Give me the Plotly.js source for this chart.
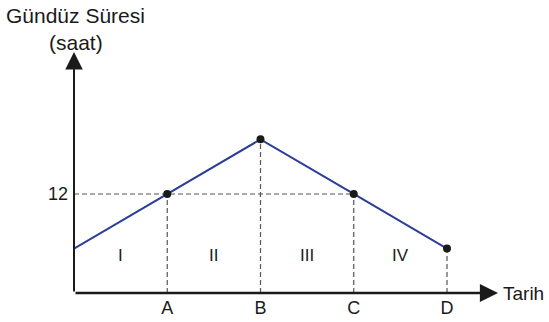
<!DOCTYPE html>
<html>
<head>
<meta charset="utf-8">
<script src="https://cdn.plot.ly/plotly-3.0.1.min.js"></script>
<style>
  html, body { margin: 0; padding: 0; background: #fff; }
  #chart { width: 549px; height: 322px; }
</style>
</head>
<body>
<div id="chart"></div>
<script>
// day length curve: start of period, then the dates A..D
const dateLabels = ["", "A", "B", "C", "D"];
const datePos    = [0, 1, 2, 3, 4];
const dayHours   = [9, 12, 15, 12, 9];
const regionLabels = ["I", "II", "III", "IV"];
const refHour = 12;

const Y_MIN = 6.56, Y_MAX = 19.8;
const X_MAX = 4.547;
const FONT = "Liberation Sans, Arial, sans-serif";
const INK = "#1a1a1a";

const traces = [];

// vertical guides from each marked date down to the time axis
for (let i = 1; i < datePos.length; i++) {
  traces.push({
    type: "scatter", mode: "lines",
    x: [datePos[i], datePos[i]], y: [Y_MIN, dayHours[i]],
    line: { color: "#555", width: 1.2, dash: "5px,3px" },
    hoverinfo: "skip", showlegend: false,
  });
}

// horizontal guide at 12 hours, up to the last date reaching it
const lastAt12 = datePos.filter((p, i) => dayHours[i] === refHour).pop();
traces.push({
  type: "scatter", mode: "lines",
  x: [0, lastAt12], y: [refHour, refHour],
  line: { color: "#555", width: 1.2, dash: "5px,3px" },
  hoverinfo: "skip", showlegend: false,
});

// the day length line
traces.push({
  type: "scatter", mode: "lines",
  x: datePos, y: dayHours,
  line: { color: "#2b3f98", width: 2 },
  hoverinfo: "skip", showlegend: false,
});

// dots at A..D
traces.push({
  type: "scatter", mode: "markers",
  x: datePos.slice(1), y: dayHours.slice(1),
  marker: { color: INK, size: 8 },
  cliponaxis: false,
  hoverinfo: "skip", showlegend: false,
});

const annotations = [
  // axes with arrowheads
  { x: 0, y: Y_MAX, ax: 0, ay: Y_MIN, xref: "x", yref: "y", axref: "x", ayref: "y",
    text: "", showarrow: true, arrowhead: 2, arrowsize: 1.75, arrowwidth: 2, arrowcolor: INK },
  { x: X_MAX, y: Y_MIN, ax: 0, ay: Y_MIN, xref: "x", yref: "y", axref: "x", ayref: "y",
    text: "", showarrow: true, arrowhead: 2, arrowsize: 1.45, arrowwidth: 2.5, arrowcolor: INK },
  { x: X_MAX, y: Y_MIN, xref: "x", yref: "y", xanchor: "left", yanchor: "middle", xshift: 3,
    text: "Tarih", showarrow: false, font: { family: FONT, size: 19, color: INK } },
  { x: 0, y: 1, xref: "x", yref: "paper", xanchor: "center", yanchor: "middle", xshift: 1, yshift: 37,
    text: "Gündüz Süresi", showarrow: false, font: { family: FONT, size: 21, color: INK } },
  { x: 0, y: 1, xref: "x", yref: "paper", xanchor: "center", yanchor: "middle", xshift: 2, yshift: 10,
    text: "(saat)", showarrow: false, font: { family: FONT, size: 21, color: INK } },
];

// period labels between consecutive dates
regionLabels.forEach((lab, i) => {
  annotations.push({
    x: (datePos[i] + datePos[i + 1]) / 2, y: 8.6, xref: "x", yref: "y",
    text: lab, showarrow: false, font: { family: FONT, size: 17, color: INK },
  });
});

const layout = {
  width: 549, height: 322,
  margin: { l: 74, r: 51, t: 52, b: 29 },
  paper_bgcolor: "#fff", plot_bgcolor: "#fff",
  font: { family: FONT, size: 16, color: INK },
  showlegend: false,
  xaxis: {
    range: [0, X_MAX], showgrid: false, zeroline: false, showline: false,
    tickvals: datePos.slice(1), ticktext: dateLabels.slice(1),
    ticks: "", ticklabelstandoff: 2, tickfont: { family: FONT, size: 18, color: INK },
  },
  yaxis: {
    range: [Y_MIN, Y_MAX], showgrid: false, zeroline: false, showline: false,
    tickvals: [refHour], ticktext: [String(refHour)],
    ticks: "", ticklabelstandoff: 5, tickfont: { family: FONT, size: 18, color: INK },
  },
  annotations,
};

Plotly.newPlot("chart", traces, layout, { displayModeBar: false, staticPlot: true });
</script>
</body>
</html>
